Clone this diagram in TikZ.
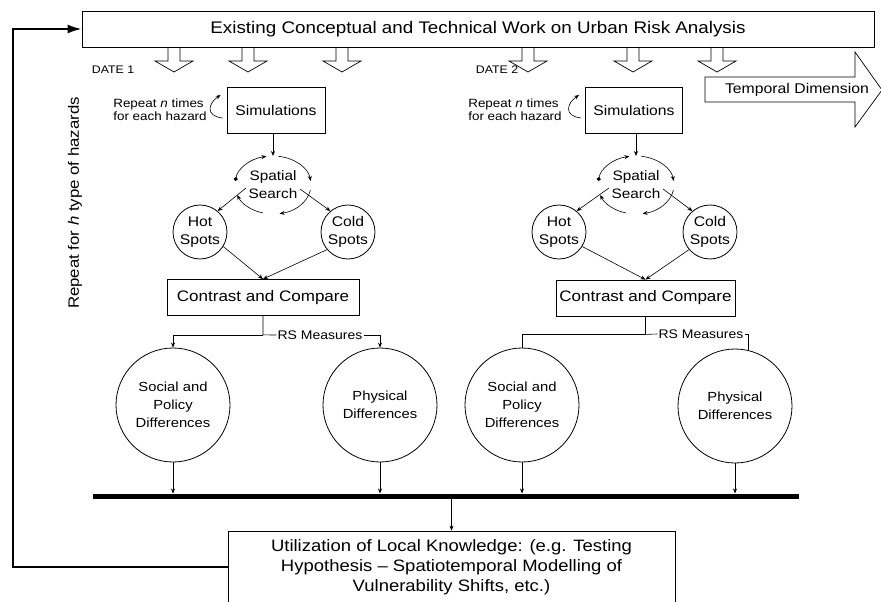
\documentclass[tikz,border=0pt]{standalone}
\usepackage{fontspec}
\setmainfont{Liberation Sans}[FakeStretch=1.12]
\usepackage{tikz}
\usetikzlibrary{arrows.meta,positioning,calc}
\tikzset{
    riskbox/.style={draw, line width=0.8pt, align=center, inner sep=2pt},
    riskcircle/.style={circle, draw, line width=0.8pt, align=center, inner sep=0pt, font=\fontsize{13.2}{18}\selectfont},
    riskspot/.style={riskcircle, minimum size=54pt, font=\fontsize{14}{18}\selectfont},
    riskdiff/.style={riskcircle, minimum size=114pt},
    risksearch/.style={align=center, inner sep=0pt, font=\fontsize{13.7}{18}\selectfont},
    riskarrow/.style={-{Stealth[length=5pt,width=4pt]}, line width=0.6pt},
    riskline/.style={line width=0.6pt},
    risknote/.style={fill=white, inner sep=1pt, font=\fontsize{12.5}{14}\selectfont},
    riskrepeat/.style={align=left, inner sep=0pt, font=\fontsize{12}{13}\selectfont},
    riskdate/.style={inner sep=0pt, font=\fontsize{11}{13}\selectfont},
    riskhollow/.style={draw, line width=0.7pt, line join=miter},
    riskloop/.style={-{Latex[length=14pt,width=9pt]}, line width=2pt}
}

\begin{document}
\begin{tikzpicture}[x=1pt, y=-1pt]
        \useasboundingbox (0,0) rectangle (881,602);
        \clip (0,0) rectangle (881,602);

        \node[riskbox, minimum width=792pt, minimum height=36pt, font=\fontsize{16.8}{20}\selectfont] (existing) at (478,29) {Existing Conceptual and Technical Work on Urban Risk Analysis};

        % hollow arrows out of the top box
        \foreach \x in {174,248,342,528,633,717}
            \draw[riskhollow] (\x-6,47) -- (\x-6,61) -- (\x-19,61) -- (\x,72) -- (\x+19,61) -- (\x+6,61) -- (\x+6,47);
        \draw[riskhollow] (705,77) -- (855,77) -- (855,52) -- (882,90) -- (855,127) -- (855,102) -- (705,102) -- cycle;
        \node[font=\fontsize{14.1}{16}\selectfont] (temporal) at (797,90) {Temporal Dimension};

        \node[riskdate] (date1) at (113,70) {DATE 1};
        \node[riskdate] (date2) at (497,70) {DATE 2};
        \node[rotate=90, font=\fontsize{15}{17}\selectfont] (repeath) at (75,203) {Repeat for \textit{h} type of hazards};

        % date 1
        \node[riskbox, minimum width=98pt, minimum height=46pt, font=\fontsize{14}{16}\selectfont] (sim1) at (276,110) {Simulations};
        \node[riskrepeat] (repeat1) at (160,110) {Repeat \textit{n} times\\for each hazard};
        \node[risksearch] (search1) at (273,185) {Spatial\\Search};
        \coordinate (search1top) at ($(search1)+(0,-29)$);
        \node[riskspot] (hot1) at (200,232) {Hot\\Spots};
        \node[riskspot] (cold1) at (348,232) {Cold\\Spots};
        \node[riskbox, minimum width=192pt, minimum height=36pt, font=\fontsize{15.2}{17}\selectfont] (contrast1) at (263,297.5) {Contrast and Compare};
        \coordinate (branch1) at ($(contrast1.south)+(0,19)$);
        \node[risknote] (rs1) at (320,335) {RS Measures};
        \node[riskdiff] (social1) at (173,405) {Social and\\Policy\\Differences};
        \node[riskdiff] (phys1) at (380,405) {Physical\\Differences};

        % date 2
        \node[riskbox, minimum width=97pt, minimum height=46pt, font=\fontsize{14}{16}\selectfont] (sim2) at (634,110) {Simulations};
        \node[riskrepeat] (repeat2) at (515,110) {Repeat \textit{n} times\\for each hazard};
        \node[risksearch] (search2) at (636,185) {Spatial\\Search};
        \coordinate (search2top) at ($(search2)+(0,-29)$);
        \node[riskspot] (hot2) at (559,232) {Hot\\Spots};
        \node[riskspot] (cold2) at (710,232) {Cold\\Spots};
        \node[riskbox, minimum width=179pt, minimum height=36pt, font=\fontsize{15.2}{17}\selectfont] (contrast2) at (645.5,298) {Contrast and Compare};
        \coordinate (branch2) at ($(contrast2.south)+(0,18)$);
        \node[risknote] (rs2) at (701,334) {RS Measures};
        \node[riskdiff] (social2) at (522,405) {Social and\\Policy\\Differences};
        \node[riskdiff] (phys2) at (735,406) {Physical\\Differences};

        \coordinate (barL) at (93,496);
        \coordinate (barR) at (799,496);
        \node[riskbox, minimum width=447pt, minimum height=72pt, font=\fontsize{16.5}{20}\selectfont] (utilization) at (451.5,567) {Utilization of Local Knowledge: (e.g. Testing\\Hypothesis -- Spatiotemporal Modelling of\\Vulnerability Shifts, etc.)};
        \coordinate (loopx) at (13,300);

        % repeat n times
        \draw[riskarrow] ($(sim1.west)+(-4,8)$) .. controls +(-18,-2) and +(-12,8) .. ($(sim1.west)+(-6,-15)$);
        \draw[riskarrow] ($(sim2.west)+(-4,8)$) .. controls +(-18,-2) and +(-12,8) .. ($(sim2.west)+(-6,-15)$);

        % spatial search cycle
        \draw[riskarrow] (search1top |- sim1.south) -- (search1top);
        \draw[riskarrow, arrows={Circle[length=4pt]-Stealth[length=5pt,width=4pt]}] ($(search1)+(172:38pt and 29pt)$) arc[start angle=172, end angle=100, x radius=38pt, y radius=29pt];
        \draw[riskarrow] ($(search1)+(82:38pt and 29pt)$) arc[start angle=82, end angle=8, x radius=38pt, y radius=29pt];
        \draw[riskarrow] ($(search1)+(-10:38pt and 29pt)$) arc[start angle=-10, end angle=-80, x radius=38pt, y radius=29pt];
        \draw[riskarrow] ($(search1)+(-105:38pt and 29pt)$) arc[start angle=-105, end angle=-160, x radius=38pt, y radius=29pt];
        \draw[riskarrow] ($(search1)+(-27,3)$) -- (hot1.50);
        \draw[riskarrow] ($(search1)+(27,4)$) -- (cold1.130);
        \draw[riskarrow] (hot1.-32) -- (contrast1.north);
        \draw[riskarrow] (cold1.-140) -- (contrast1.north);

        \draw[riskarrow] (search2top |- sim2.south) -- (search2top);
        \draw[riskarrow, arrows={Circle[length=4pt]-Stealth[length=5pt,width=4pt]}] ($(search2)+(172:38pt and 29pt)$) arc[start angle=172, end angle=100, x radius=38pt, y radius=29pt];
        \draw[riskarrow] ($(search2)+(82:38pt and 29pt)$) arc[start angle=82, end angle=8, x radius=38pt, y radius=29pt];
        \draw[riskarrow] ($(search2)+(-10:38pt and 29pt)$) arc[start angle=-10, end angle=-80, x radius=38pt, y radius=29pt];
        \draw[riskarrow] ($(search2)+(-105:38pt and 29pt)$) arc[start angle=-105, end angle=-160, x radius=38pt, y radius=29pt];
        \draw[riskarrow] ($(search2)+(-27,3)$) -- (hot2.50);
        \draw[riskarrow] ($(search2)+(27,4)$) -- (cold2.130);
        \draw[riskarrow] (hot2.-32) -- (contrast2.north);
        \draw[riskarrow] (cold2.-140) -- (contrast2.north);

        % RS measures branches
        \draw[riskline] (contrast1.south) -- (branch1) -- (rs1.west);
        \draw[riskarrow] (branch1) -| (social1.north);
        \draw[riskarrow] (rs1.east) -| (phys1.north);
        \draw[riskline] (contrast2.south) -- (branch2) -- (rs2.west);
        \draw[riskline] (branch2) -| (social2.north);
        \draw[riskline] (rs2.east) -| (phys2.77);

        % collecting bar
        \draw[line width=5pt] (barL) -- (barR);
        \foreach \c in {social1,phys1,social2,phys2}
            \draw[riskarrow, shorten >=2.5pt] (\c.south) -- (\c.south |- barL);
        \draw[riskarrow, shorten <=2.5pt] (utilization.north |- barL) -- (utilization.north);
        \draw[riskloop] (utilization.west) -| (loopx) |- (existing.west);
    \end{tikzpicture}
\end{document}
